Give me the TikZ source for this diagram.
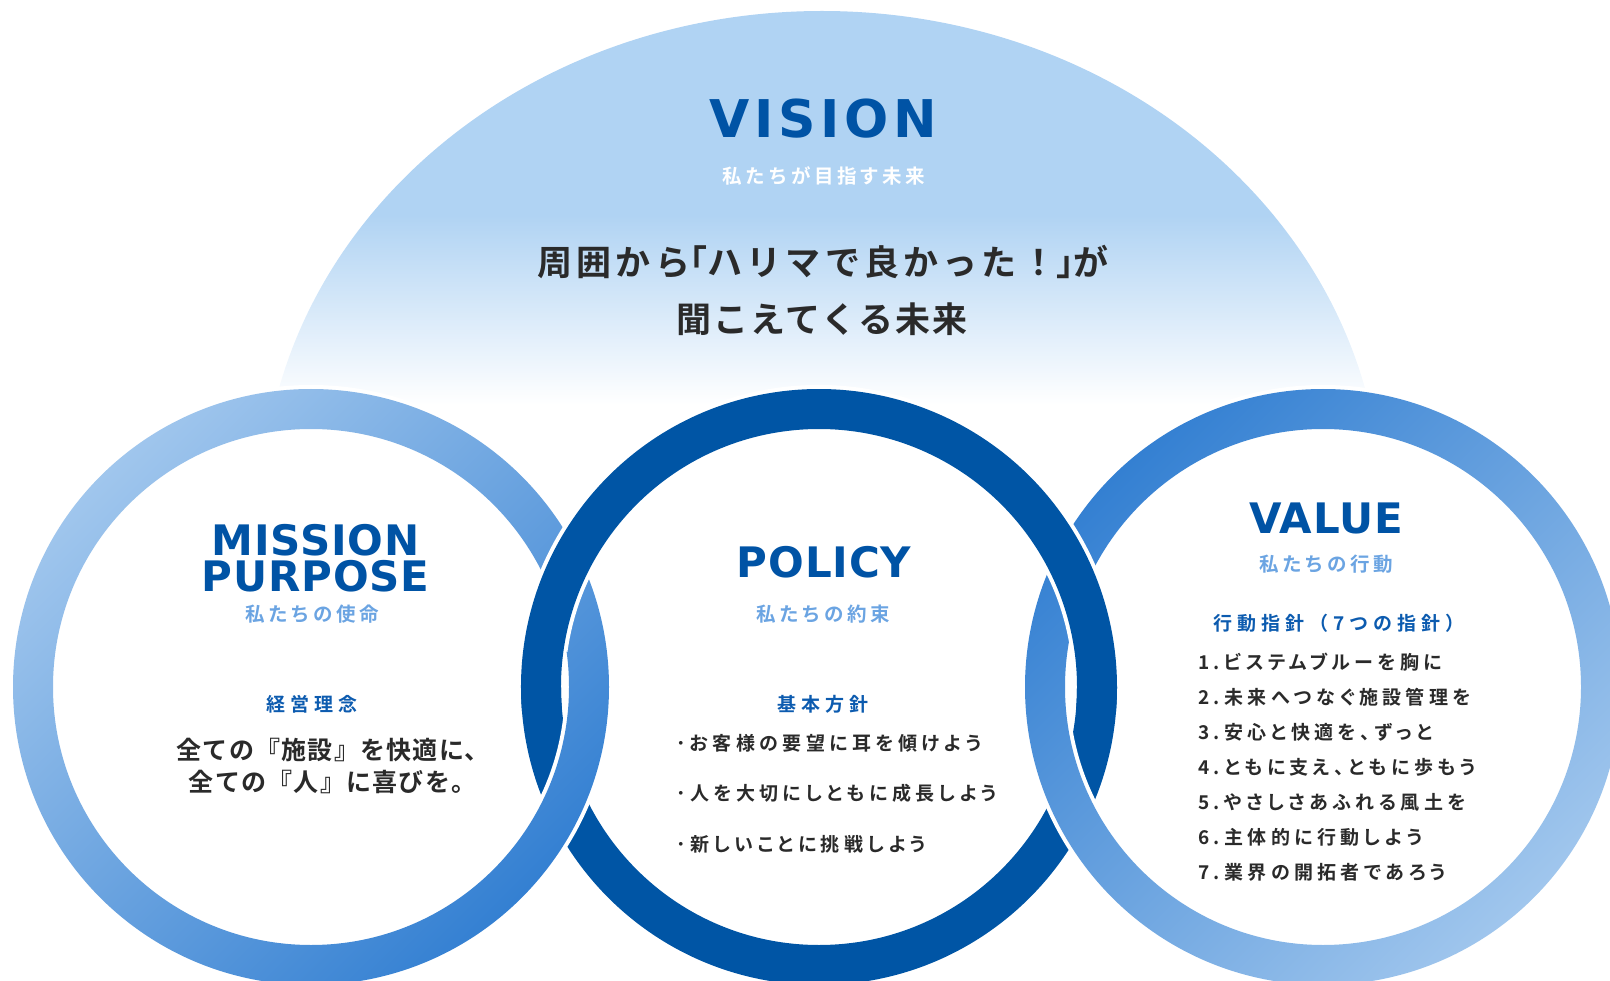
\documentclass[tikz,border=0pt]{standalone}
\usepackage{fontspec}
\newfontfamily\titlefont{DejaVu Sans Bold}[LetterSpace=2]
\newfontfamily\visionfont{DejaVu Sans Bold}[LetterSpace=9]
\newfontfamily\jpmain{Noto Sans CJK JP Bold}[LetterSpace=6]
\newfontfamily\jpwide{Noto Sans CJK JP Bold}[LetterSpace=12]
\newfontfamily\jpcopy{Noto Sans CJK JP Bold}[LetterSpace=5]
\newfontfamily\jpsub{Noto Sans CJK JP Bold}[LetterSpace=17]
\newfontfamily\jphead{Noto Sans CJK JP Bold}[LetterSpace=26]
\newfontfamily\jpbody{Noto Sans CJK JP Bold}[LetterSpace=23,RawFeature=+palt]
\newcommand\halfw[1]{{\addfontfeature{RawFeature=+halt}#1}}
\definecolor{titleblue}{HTML}{0053A5}
\definecolor{subblue}{HTML}{6BA4E2}
\definecolor{headblue}{HTML}{0C5BAF}
\definecolor{textgray}{HTML}{2A2A2A}
\definecolor{domeblue}{HTML}{B0D3F3}
\definecolor{ringdark}{HTML}{0055A5}
\definecolor{ringlight}{HTML}{A0C6ED}
\definecolor{ringmid}{HTML}{3480D2}

\begin{document}
\begin{tikzpicture}[x=1pt,y=-1pt,
  title/.style={font=\titlefont\fontsize{42}{42}\selectfont, text=titleblue, anchor=base, inner sep=0pt},
  subtitle/.style={font=\jpsub\fontsize{19.5}{19.5}\selectfont, text=subblue, anchor=base, inner sep=0pt},
  heading/.style={font=\jphead\fontsize{19}{19}\selectfont, text=headblue, anchor=base, inner sep=0pt},
  bodytext/.style={font=\jpbody\fontsize{19}{19}\selectfont, text=textgray, anchor=base west, inner sep=0pt},
  maintext/.style={font=\jpmain\fontsize{35}{35}\selectfont, text=textgray, anchor=base, inner sep=0pt},
  copytext/.style={font=\jpcopy\fontsize{25}{25}\selectfont, text=textgray, anchor=base, inner sep=0pt},
  lighttl/.style={even odd rule, top color=ringlight, bottom color=ringmid, shading angle=45},
  darktl/.style={even odd rule, top color=ringmid, bottom color=ringlight, shading angle=45},
  gapring/.style={white, line width=48pt},
  darkring/.style={ringdark, line width=40pt}]
\useasboundingbox (0,0) rectangle (1610,981);

\coordinate (mcenter) at (311,687);
\coordinate (pcenter) at (819,687);
\coordinate (vcenter) at (1323,687);

\begin{scope}
  \clip (822,511) ellipse [x radius=560pt, y radius=500pt];
  \fill[domeblue] (250,0) rectangle (1400,215);
  \shade[top color=domeblue, bottom color=white] (250,215) rectangle (1400,405);
\end{scope}

\draw[darkring] (pcenter) ++(0:278) arc[start angle=0, end angle=180, radius=278];
\draw[gapring] (mcenter) circle[radius=278pt];
\shade[lighttl] (mcenter) circle[radius=298pt] circle[radius=258pt];
\draw[gapring] (vcenter) circle[radius=278pt];
\shade[darktl] (vcenter) circle[radius=298pt] circle[radius=258pt];
\draw[gapring] (pcenter) ++(188:278) arc[start angle=188, end angle=352, radius=278];
\draw[darkring] (pcenter) ++(175:278) arc[start angle=175, end angle=365, radius=278];

\node[title, font=\visionfont\fontsize{52}{52}\selectfont] (vision) at (823,138) {VISION};
\node[subtitle, text=white] (visionsub) at (824,184) {私たちが目指す未来};
\node[maintext, font=\jpwide\fontsize{35}{35}\selectfont] (visionl1) at (823,275.5) {周囲から\halfw{「}ハリマで良かった！\halfw{」}が};
\node[maintext] (visionl2) at (822,333) {聞こえてくる未来};

\node[title, align=center, font=\titlefont\fontsize{42}{35.5}\selectfont] (mission) at (315.5,591) {MISSION\\PURPOSE};
\node[subtitle] (missionsub) at (312,621) {私たちの使命};
\node[heading] (missionhead) at (312,711) {経営理念};
\node[copytext] (missionl1) at (333,759) {全ての『施設』を快適に、};
\node[copytext] (missionl2) at (332.5,791) {全ての『人』に喜びを。};

\node[title] (policy) at (824,577) {POLICY};
\node[subtitle] (policysub) at (823,621) {私たちの約束};
\node[heading] (policyhead) at (823,711) {基本方針};
\foreach \t [count=\i] in {お客様の要望に耳を傾けよう, 人を大切にしともに成長しよう, 新しいことに挑戦しよう}
  \node[bodytext] (policy\i) at (676,{750+50.5*(\i-1)}) {･\t};

\node[title] (value) at (1326,533) {VALUE};
\node[subtitle] (valuesub) at (1326,571) {私たちの行動};
\node[heading] (valuehead) at (1339,630) {行動指針（7つの指針）};
\foreach \t [count=\i] in {ビステムブルーを胸に, 未来へつなぐ施設管理を, 安心と快適を、ずっと, ともに支え、ともに歩もう, やさしさあふれる風土を, 主体的に行動しよう, 業界の開拓者であろう}
  \node[bodytext] (value\i) at (1198,{669.5+35*(\i-1)}) {\i.\t};
\end{tikzpicture}
\end{document}
